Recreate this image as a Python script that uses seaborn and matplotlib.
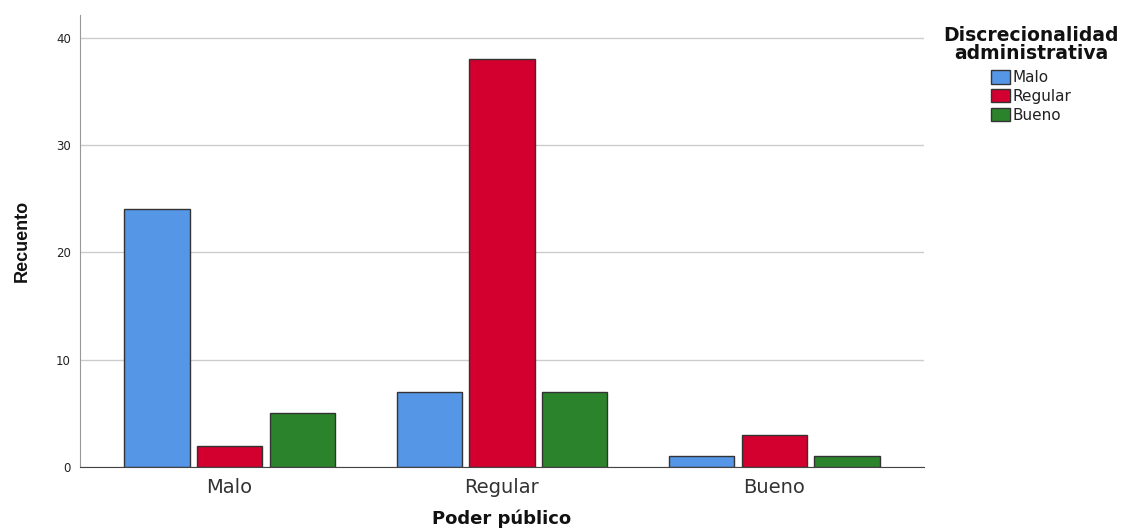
import numpy as np
import pandas as pd
import seaborn as sns
import matplotlib.pyplot as plt

categories = ["Malo", "Regular", "Bueno"]
hue_levels = ["Malo", "Regular", "Bueno"]
malo_vals = [24, 7, 1]
regular_vals = [2, 38, 3]
bueno_vals = [5, 7, 1]

df = pd.DataFrame({
    "Poder público": categories * 3,
    "Discrecionalidad": ["Malo"] * 3 + ["Regular"] * 3 + ["Bueno"] * 3,
    "Recuento": malo_vals + regular_vals + bueno_vals,
})

sns.set_style("white")
plt.rcParams['font.family'] = ['DejaVu Sans']

colors = ["#5596E6", "#D3002F", "#2B832B"]

fig = plt.figure(figsize=(11.27, 5.31), dpi=100)
ax = fig.add_axes([80 / 1127, 64 / 531, 844 / 1127, 452 / 531])

sns.barplot(data=df, x="Poder público", y="Recuento", hue="Discrecionalidad",
            order=categories, hue_order=hue_levels, palette=colors,
            saturation=1, width=0.8, gap=0.1, edgecolor="#333333",
            linewidth=1, ax=ax, legend=True)

ax.set_xlim(-0.549, 2.549)
ax.set_ylim(0, 42.1)
ax.set_yticks([0, 10, 20, 30, 40])
ax.yaxis.grid(True, color="#cccccc", linewidth=1)
ax.set_axisbelow(True)
for s in ["top", "right"]:
    ax.spines[s].set_visible(False)
ax.spines["left"].set_color("#999999")
ax.spines["bottom"].set_color("#444444")
ax.tick_params(axis="y", length=3, labelsize=8.5, colors="#999999", labelcolor="#222222")
ax.tick_params(axis="x", length=0, labelsize=14, labelcolor="#333333", pad=8)

ax.set_xlabel("Poder público", fontsize=13, fontweight="bold", labelpad=9, color="#111111")
ax.set_ylabel("Recuento", fontsize=13, fontweight="bold", labelpad=18,
              fontfamily="Liberation Sans", color="#111111")

leg = ax.legend(title="Discrecionalidad\nadministrativa", loc="upper center",
                bbox_to_anchor=(1031 / 1127, 1 - 20 / 531),
                bbox_transform=fig.transFigure, frameon=False, fontsize=11,
                title_fontsize=13.5, handlelength=1.25, handleheight=0.95,
                handletextpad=0.15, labelspacing=0.25, borderaxespad=0,
                alignment="center")
title = leg.get_title()
title.set_fontweight("bold")
title.set_linespacing(0.95)
title.set_multialignment("center")
title.set_color("#111111")
leg._legend_box.sep = 5
for t in leg.get_texts():
    t.set_color("#222222")

fig.savefig("out.png", dpi=100)
